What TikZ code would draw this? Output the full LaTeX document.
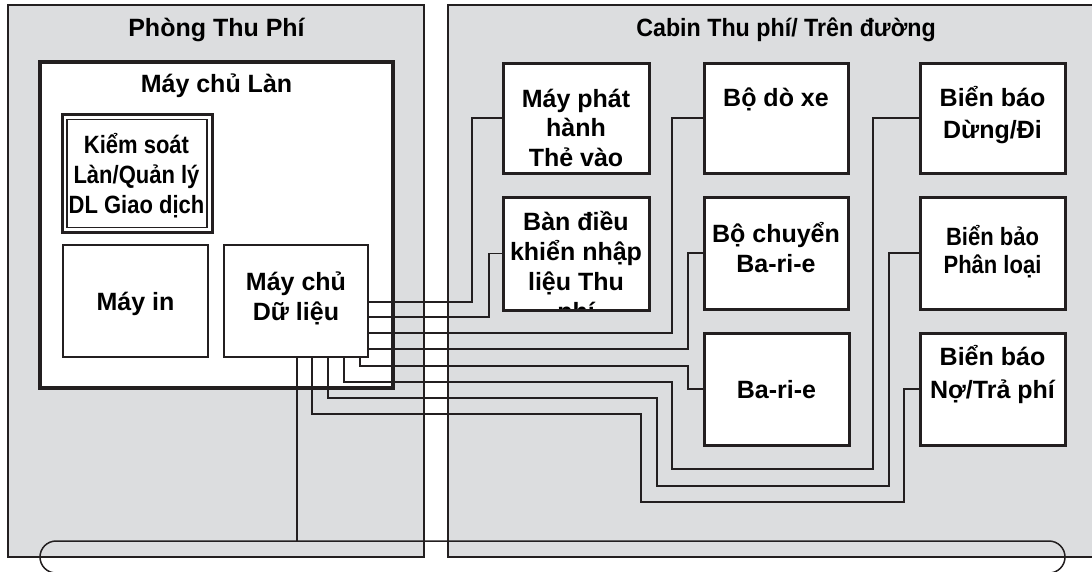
\documentclass[tikz,border=0pt]{standalone}
\usepackage{fontspec}
\setmainfont{Liberation Sans}
\usepackage{graphicx}
\definecolor{ink}{RGB}{35,31,32}
\definecolor{panelgray}{RGB}{220,221,223}
\newcommand{\tlines}[1]{\begin{tabular}[t]{@{}c@{}}#1\end{tabular}}
\newcommand{\cnd}[1]{\scalebox{0.88}[1]{#1}}
\tikzset{
  panelbox/.style={draw=ink, line width=1.5pt, fill=panelgray, inner sep=0, outer sep=0},
  lanebox/.style={draw=ink, line width=3.5pt, fill=white, inner sep=0, outer sep=0},
  devbox/.style={draw=ink, line width=3pt, fill=white, inner sep=0, outer sep=0},
  thinbox/.style={draw=ink, line width=1.5pt, fill=white, inner sep=0, outer sep=0},
  wire/.style={draw=ink, line width=1.4pt},
  lbl/.style={inner sep=0, outer sep=0, anchor=base},
  bus/.style={draw=ink, line width=1.5pt, rounded corners=16pt, inner sep=0, outer sep=0}
}
\begin{document}
\begin{tikzpicture}[x=1pt, y=-1pt, line join=miter]
\useasboundingbox (0,0) rectangle (1092,571);
\clip (0,0) rectangle (1092,571);

% panels
\node[panelbox, minimum width=416pt, minimum height=552pt] (room) at (216,281) {};
\node[panelbox, minimum width=662pt, minimum height=552pt] (cabin) at (779,281) {};
\node[lbl, font=\fontsize{25}{30}\selectfont\bfseries] (roomT) at (216.5,36) {Phòng Thu Phí};
\node[lbl, font=\fontsize{25}{30}\selectfont\bfseries] (cabinT) at (786,36) {\scalebox{0.93}[1]{Cabin Thu phí/ Trên đường}};

% lane server
\node[lanebox, minimum width=353pt, minimum height=326pt] (lane) at (216.5,225) {};
\node[lbl, font=\fontsize{25}{30}\selectfont\bfseries] (laneT) at (216.5,92) {Máy chủ Làn};

\node[draw=ink, line width=3pt, fill=white, inner sep=0, outer sep=0, minimum width=150pt, minimum height=118pt] (ksO) at (137,173.5) {};
\node[draw=ink, line width=1.6pt, inner sep=0, outer sep=0, minimum width=140pt, minimum height=108pt] (ks) at (137,173.5) {};
\node[lbl, font=\fontsize{25}{30}\selectfont\bfseries] (ksT) at (136.5,153) {\cnd{\tlines{Kiểm soát\\Làn/Quản lý\\DL Giao dịch}}};

\node[thinbox, minimum width=145pt, minimum height=112pt] (pr) at (135.5,301) {};
\node[lbl, font=\fontsize{25}{30}\selectfont\bfseries] (prT) at (135.5,310) {Máy in};

\node[thinbox, minimum width=144pt, minimum height=112pt] (dl) at (296,301) {};
\node[lbl, font=\fontsize{25}{30}\selectfont\bfseries] (dlT) at (296,290) {\tlines{Máy chủ\\Dữ liệu}};

% devices
\node[devbox, minimum width=146pt, minimum height=110pt] (mp) at (576,118) {};
\node[lbl, font=\fontsize{25}{29.5}\selectfont\bfseries] (mpT) at (576,107) {\tlines{Máy phát\\hành\\Thẻ vào}};

\node[devbox, minimum width=146pt, minimum height=113pt] (bd) at (576,253.5) {};
\begin{scope}
\clip (505,199) rectangle (647,308.5);
\node[lbl, font=\fontsize{25}{30}\selectfont\bfseries] (bdT) at (576,230) {\tlines{Bàn điều\\khiển nhập\\liệu Thu\\phí}};
\end{scope}

\node[devbox, minimum width=144pt, minimum height=110pt] (dx) at (776,118) {};
\node[lbl, font=\fontsize{25}{30}\selectfont\bfseries] (dxT) at (776,106) {Bộ dò xe};

\node[devbox, minimum width=144pt, minimum height=112pt] (bc) at (776,253) {};
\node[lbl, font=\fontsize{25}{30}\selectfont\bfseries] (bcT) at (776,242) {\tlines{Bộ chuyển\\Ba-ri-e}};

\node[devbox, minimum width=145pt, minimum height=112pt] (be) at (776.5,389) {};
\node[lbl, font=\fontsize{25}{30}\selectfont\bfseries] (beT) at (776.5,398) {Ba-ri-e};

\node[devbox, minimum width=145pt, minimum height=110pt] (dd) at (992.5,118) {};
\node[lbl, font=\fontsize{25}{32}\selectfont\bfseries] (ddT) at (992.5,106) {\tlines{Biển báo\\Dừng/Đi}};

\node[devbox, minimum width=145pt, minimum height=112pt] (pl) at (992.5,253) {};
\node[lbl, font=\fontsize{25}{28}\selectfont\bfseries] (plT) at (992.5,245) {\cnd{\tlines{Biển bảo\\Phân loại}}};

\node[devbox, minimum width=145pt, minimum height=112pt] (no) at (992.5,389) {};
\node[lbl, font=\fontsize{25}{33}\selectfont\bfseries] (noT) at (992.5,365) {\tlines{Biển báo\\Nợ/Trả phí}};

% bus
\node[bus, minimum width=1025pt, minimum height=32pt] (bs) at (552.5,557) {};

% wires
\draw[wire] ([yshift=-1pt]dl.east) -| ([xshift=-31pt]mp.west) -- (mp.west);
\draw[wire] ([yshift=-16pt]dl.east) -| ([xshift=-14pt]bd.west) -- (bd.west);
\draw[wire] ([yshift=-32pt]dl.east) -| ([xshift=-32pt]dx.west) -- (dx.west);
\draw[wire] ([yshift=-48pt]dl.east) -| ([xshift=-16pt]bc.west) -- (bc.west);
\draw[wire] ([xshift=-8pt]dl.south east) |- ([xshift=-16pt,yshift=23pt]be.west) |- (be.west);
\draw[wire] ([xshift=-24pt]dl.south east) |- (672,382) |- (873,469) |- (dd.west);
\draw[wire] ([xshift=-40pt]dl.south east) |- (657,398) |- (889,486) |- (pl.west);
\draw[wire] ([xshift=-56pt]dl.south east) |- (641,414) |- (904,502) |- (no.west);
\coordinate (d9) at ([xshift=-71pt]dl.south east);
\draw[wire] (d9) -- (d9 |- bs.north);
\end{tikzpicture}
\end{document}
